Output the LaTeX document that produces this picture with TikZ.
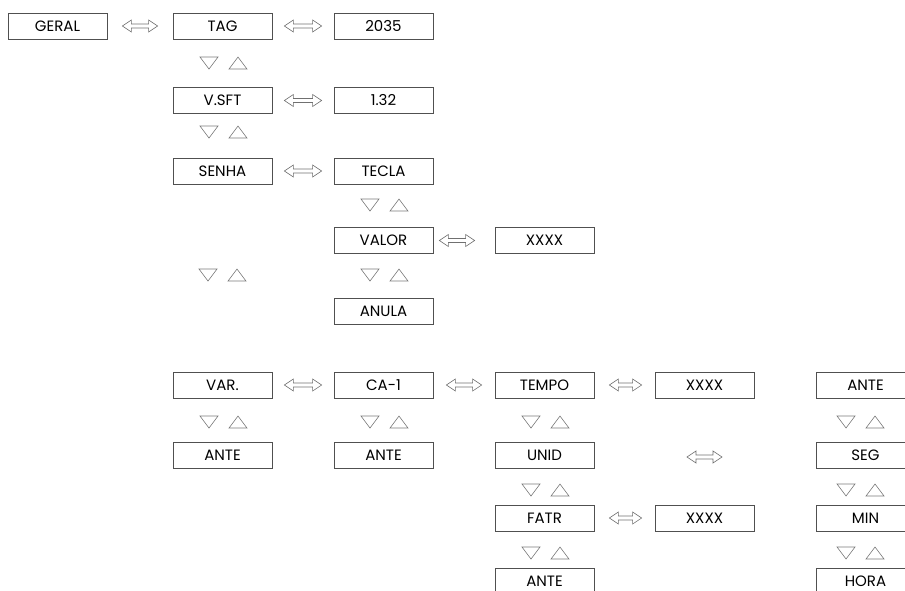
\documentclass[tikz,border=0pt]{standalone}
\usepackage{fontspec}
\setmainfont{Poppins}
\usetikzlibrary{calc}
\definecolor{boxgray}{HTML}{505050}
\definecolor{trigray}{HTML}{7A7A7A}
\definecolor{arrgray}{HTML}{707070}
\tikzset{
  menubox/.style={draw=boxgray, line width=0.7pt, minimum width=99pt, minimum height=26pt, inner sep=0pt, font=\fontsize{15}{15}\selectfont, text=black},
  tri/.style={draw=trigray, line width=0.6pt},
  dblarr/.style={draw=arrgray, line width=0.6pt, to path={
    let \p1=(\tikztostart), \p2=(\tikztotarget) in
    (\x1,\y1) -- (\x1+9pt,\y1+6pt) -- (\x1+9pt,\y1+2pt) -- (\x2-9pt,\y1+2pt) -- (\x2-9pt,\y1+6pt)
    -- (\x2,\y1) -- (\x2-9pt,\y1-6pt) -- (\x2-9pt,\y1-2pt) -- (\x1+9pt,\y1-2pt) -- (\x1+9pt,\y1-6pt) -- cycle}},
  pics/updn/.style={code={
    \draw[tri] (-23,-6) -- (-5,-6) -- (-14,6) -- cycle;
    \draw[tri] (6,6) -- (24,6) -- (15,-6) -- cycle;
  }}
}
\begin{document}
\begin{tikzpicture}[x=1pt,y=-1pt]
\useasboundingbox (0,0) rectangle (905,590);
\clip (0,0) rectangle (905,590);
% row 1
\node[menubox] (geral) at (57.5,26) {GERAL};
\node[menubox] (tag)   at (222.5,26) {TAG};
\node[menubox] (n2035) at (383.5,26) {2035};
% row 2
\node[menubox] (vsft)  at (222.5,100.5) {V.SFT};
\node[menubox] (n132)  at (383.5,100.5) {1.32};
% row 3
\node[menubox] (senha) at (222.5,171) {SENHA};
\node[menubox] (tecla) at (383.5,171) {TECLA};
% row 4
\node[menubox] (valor) at (383.5,240.5) {VALOR};
\node[menubox] (xv)    at (544.5,240.5) {XXXX};
% row 5
\node[menubox] (anula) at (383.5,311.5) {ANULA};
% row 6
\node[menubox] (var)   at (222.5,385) {VAR.};
\node[menubox] (ca1)   at (383.5,385) {CA-1};
\node[menubox] (tempo) at (544.5,385) {TEMPO};
\node[menubox] (xt)    at (704.5,385) {XXXX};
\node[menubox] (anter) at (865.5,385) {ANTE};
% row 7
\node[menubox] (antev) at (222.5,455) {ANTE};
\node[menubox] (antec) at (383.5,455) {ANTE};
\node[menubox] (unid)  at (544.5,455) {UNID};
\node[menubox] (seg)   at (865.5,455) {SEG};
% row 8
\node[menubox] (fatr)  at (544.5,518) {FATR};
\node[menubox] (xf)    at (704.5,518) {XXXX};
\node[menubox] (min)   at (865.5,518) {MIN};
% row 9
\node[menubox] (antet) at (544.5,581) {ANTE};
\node[menubox] (hora)  at (865.5,581) {HORA};
% free arrow coordinates
\coordinate (ua) at (687,457);
\coordinate (ub) at (722,457);
% double arrows
\draw[dblarr] ([xshift=15pt]geral.east) to ([xshift=-15pt]tag.west);
\draw[dblarr] ([xshift=12pt]tag.east) to ([xshift=-12pt]n2035.west);
\draw[dblarr] ([xshift=12pt]vsft.east) to ([xshift=-12pt]n132.west);
\draw[dblarr] ([xshift=12pt]senha.east) to ([xshift=-12pt]tecla.west);
\draw[dblarr] ([xshift=6pt]valor.east) to ([xshift=-20pt]xv.west);
\draw[dblarr] ([xshift=12pt]var.east) to ([xshift=-12pt]ca1.west);
\draw[dblarr] ([xshift=13pt]ca1.east) to ([xshift=-13pt]tempo.west);
\draw[dblarr] ([xshift=15pt]tempo.east) to ([xshift=-13pt]xt.west);
\draw[dblarr] ([xshift=15pt]fatr.east) to ([xshift=-13pt]xf.west);
\draw[dblarr] (ua) to (ub);
% up/down triangles
\pic at (223,63) {updn};
\pic at (223,132) {updn};
\pic at (222,275) {updn};
\pic at (223,422) {updn};
\pic at (384,205) {updn};
\pic at (384,275) {updn};
\pic at (384,422) {updn};
\pic at (545,422) {updn};
\pic at (545,490) {updn};
\pic at (545,553) {updn};
\pic at (860,422) {updn};
\pic at (860,490) {updn};
\pic at (860,553) {updn};
\end{tikzpicture}
\end{document}
